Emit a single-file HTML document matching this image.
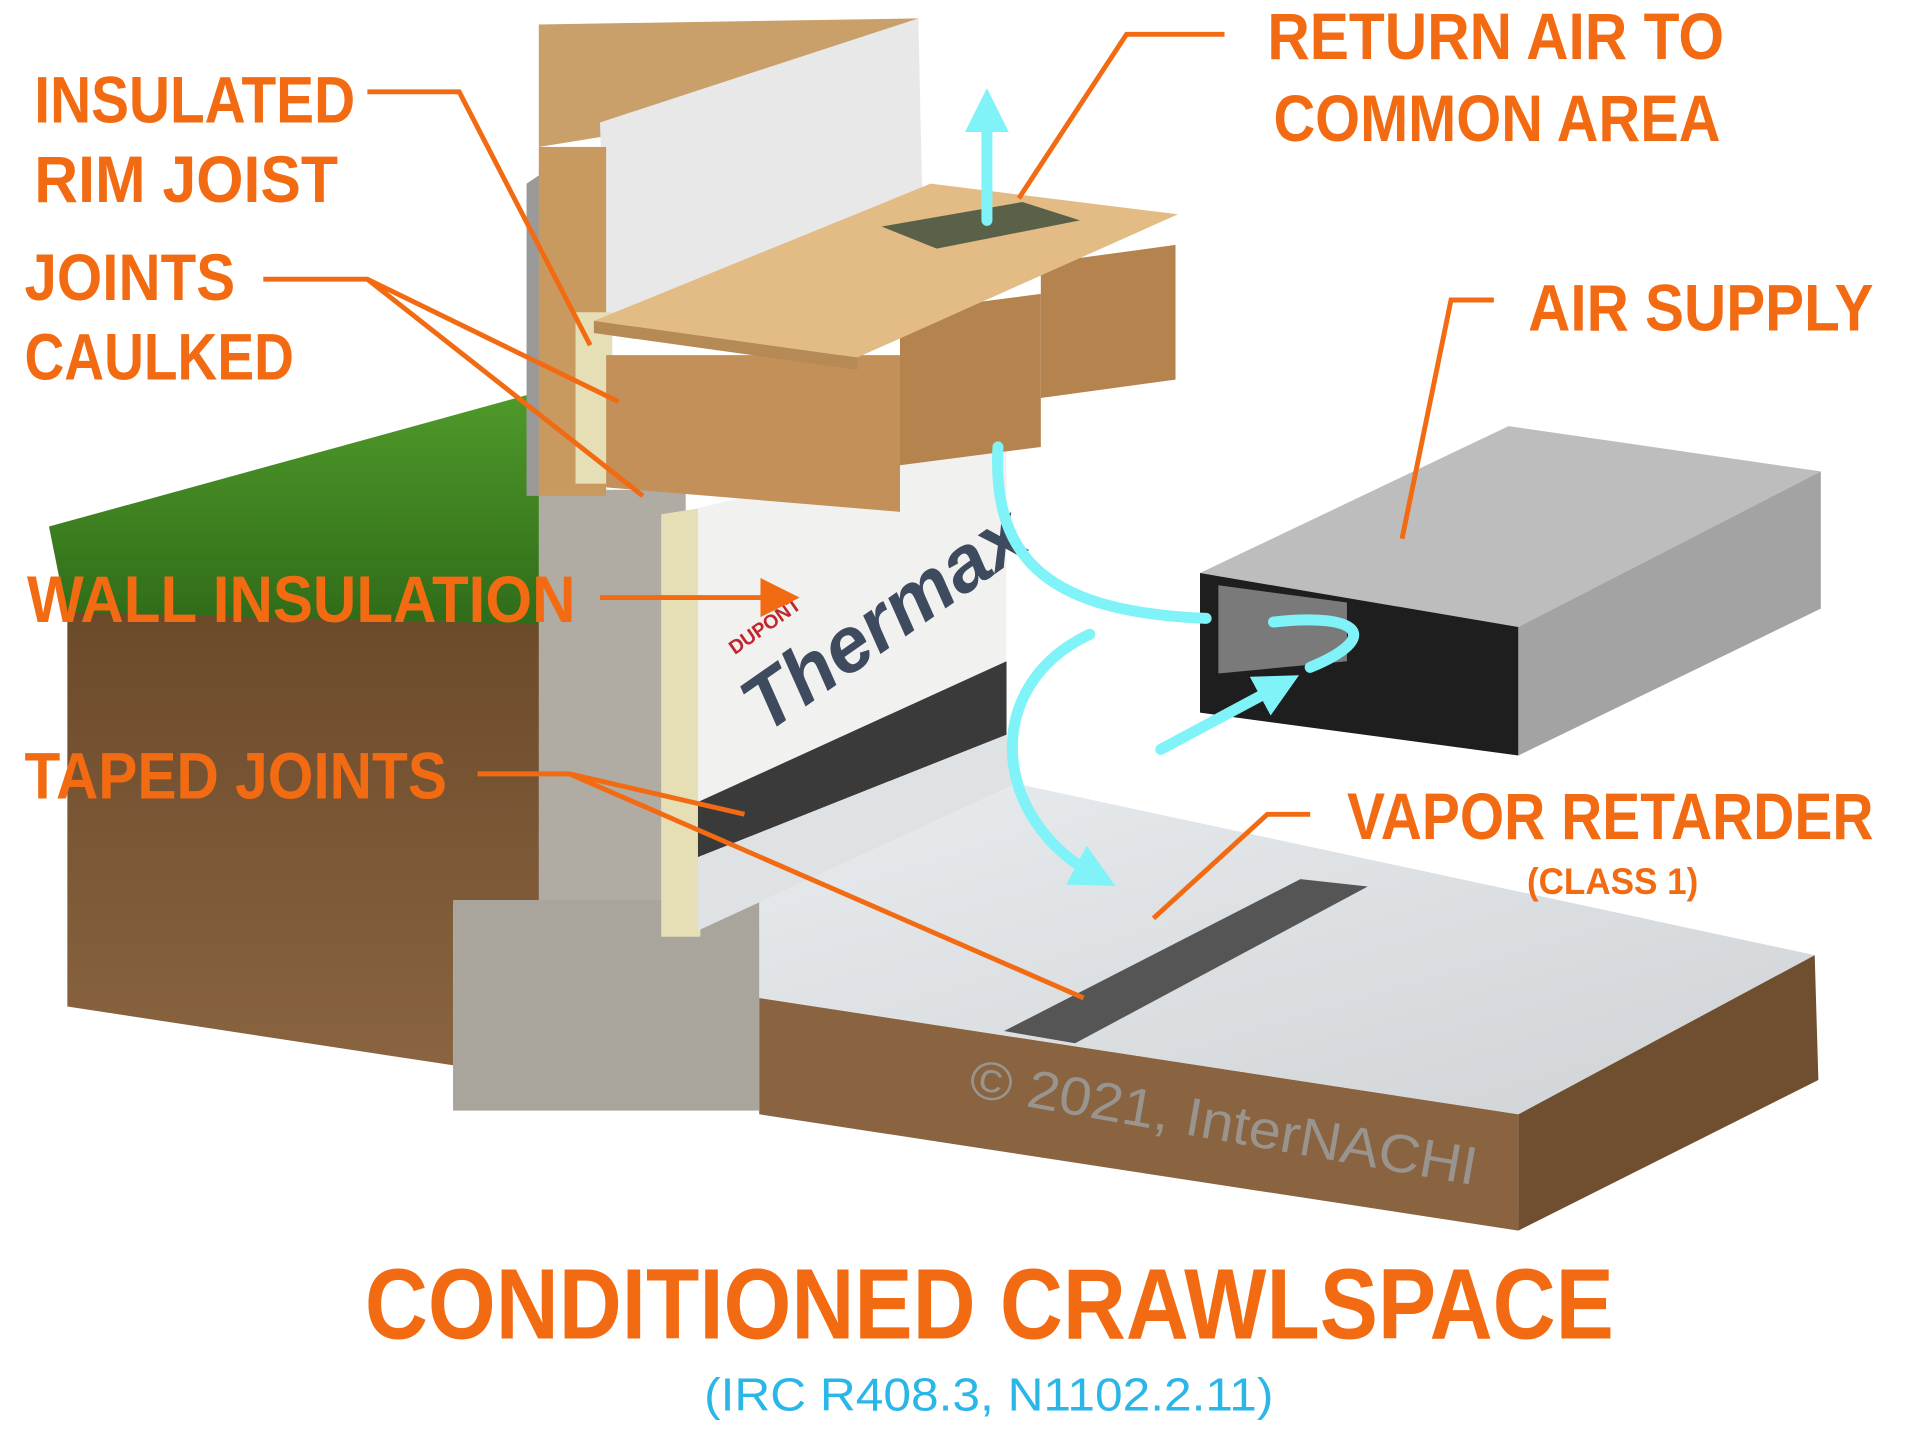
<!DOCTYPE html>
<html><head><meta charset="utf-8"><style>
html,body{margin:0;padding:0;background:#fff}
svg{display:block}
text{font-family:"Liberation Sans",sans-serif}
.o{fill:#f26b12;font-weight:bold}
.l{stroke:#f26b12;stroke-width:4;fill:none}
.c{stroke:#7ff3f8;stroke-width:9;fill:none;stroke-linecap:round}
</style></head><body>
<svg width="1920" height="1440" viewBox="0 0 1568 1176" xmlns="http://www.w3.org/2000/svg">
<defs>
<linearGradient id="grass" x1="0" y1="0" x2="0" y2="1"><stop offset="0" stop-color="#4f9a2a"/><stop offset="1" stop-color="#2f6a18"/></linearGradient>
<linearGradient id="soil" x1="0" y1="0" x2="0" y2="1"><stop offset="0" stop-color="#6b4a2a"/><stop offset="1" stop-color="#8a6440"/></linearGradient>
<linearGradient id="floor" x1="0" y1="0" x2="1" y2="1"><stop offset="0" stop-color="#e9ecef"/><stop offset="1" stop-color="#cfd3d6"/></linearGradient>
<marker id="oa" markerWidth="8" markerHeight="8" refX="6" refY="4" orient="auto" markerUnits="strokeWidth"><path d="M0,0 L8,4 L0,8z" fill="#f26b12"/></marker>
<marker id="ca" markerWidth="4" markerHeight="4" refX="2" refY="2" orient="auto" markerUnits="strokeWidth"><path d="M0,0 L4,2 L0,4z" fill="#7ff3f8"/></marker>
</defs>
<rect width="1568" height="1176" fill="#fff"/>
<!-- left soil -->
<polygon points="40,430 440,320 445,515 55,505" fill="url(#grass)"/>
<polygon points="55,500 445,510 445,740 370,740 370,870 55,822" fill="url(#soil)"/>
<!-- right soil slab -->
<polygon points="620,815 1240,910 1240,1005 620,910" fill="#8a6440"/>
<polygon points="1240,910 1482,780 1485,882 1240,1005" fill="#6f4f30"/>
<!-- vapor floor -->
<polygon points="570,760 830,640 1482,780 1240,910 620,815" fill="url(#floor)"/>
<polygon points="820,842 1062,718 1117,724 878,852" fill="#555"/>
<!-- concrete -->
<rect x="440" y="400" width="120" height="345" fill="#b0aca4"/>
<rect x="370" y="735" width="250" height="172" fill="#a9a59d"/>
<polygon points="540,420 572,415 572,765 540,765" fill="#e6dfb6"/>
<!-- thermax -->
<polygon points="570,415 822,355 822,548 570,655" fill="#f1f1f0"/>
<polygon points="570,655 822,540 822,600 570,700" fill="#3a3a3a"/>
<polygon points="570,700 822,600 830,640 570,760" fill="#dfe2e4"/>
<text x="0" y="0" transform="translate(625,600) rotate(-35)" font-size="64" font-weight="bold" fill="#3e4a5e" font-style="italic">Thermax</text>
<text x="0" y="0" transform="translate(600,535) rotate(-35)" font-size="16" font-weight="bold" fill="#c0262e">DUPONT</text>
<!-- wall framing -->
<polygon points="440,20 750,15 750,70 440,120" fill="#c9a06a"/>
<polygon points="490,100 750,15 755,245 495,262" fill="#e8e8e8"/>
<polygon points="430,150 445,140 445,405 430,405" fill="#9a9a9a"/>
<rect x="440" y="120" width="55" height="285" fill="#c99a60"/>
<rect x="470" y="255" width="30" height="140" fill="#e6dfb6"/>
<!-- joists -->
<polygon points="495,290 735,290 735,418 495,398" fill="#c29058"/>
<polygon points="735,255 850,240 850,365 735,380" fill="#b4834e"/>
<polygon points="850,215 960,200 960,310 850,325" fill="#b4834e"/>
<!-- deck -->
<polygon points="485,262 760,150 962,175 700,292" fill="#e2bb85"/>
<polygon points="485,262 700,292 700,302 485,272" fill="#b58a55"/>
<polygon points="720,185 835,165 882,180 765,203" fill="#5a6148"/>
<!-- duct -->
<polygon points="980,468 1232,348 1487,385 1240,512" fill="#bdbdbd"/>
<polygon points="980,468 1240,512 1240,617 980,582" fill="#1e1e1e"/>
<polygon points="1240,512 1487,385 1487,497 1240,617" fill="#a3a3a3"/>
<polygon points="995,478 1100,492 1100,540 995,550" fill="#7a7a7a"/>
<!-- cyan arrows -->
<path class="c" d="M806,180 L806,90" marker-end="url(#ca)"/>
<path class="c" d="M815,365 C810,460 860,500 985,505"/>
<path class="c" d="M1040,508 C1110,500 1130,520 1070,545"/>
<path class="c" d="M948,612 L1045,560" marker-end="url(#ca)"/>
<path class="c" d="M890,518 C800,560 810,670 895,715" marker-end="url(#ca)"/>
<!-- watermark -->
<text transform="translate(790,895) rotate(10)" font-size="44" fill="#9d9d9d" opacity="0.85" textLength="420" lengthAdjust="spacingAndGlyphs">© 2021, InterNACHI</text>
<!-- leaders -->
<polyline class="l" points="300,75 375,75 482,282"/>
<polyline class="l" points="215,228 300,228 505,328"/>
<polyline class="l" points="300,228 525,405"/>
<polyline class="l" points="490,488 645,488" marker-end="url(#oa)"/>
<polyline class="l" points="390,632 465,632 608,665"/>
<polyline class="l" points="465,632 885,815"/>
<polyline class="l" points="1000,28 920,28 832,162"/>
<polyline class="l" points="1220,245 1185,245 1145,440"/>
<polyline class="l" points="1070,665 1035,665 942,750"/>
<!-- labels -->
<g class="o" font-size="54">
<text x="28" y="100" textLength="262" lengthAdjust="spacingAndGlyphs">INSULATED</text>
<text x="28" y="165" textLength="248" lengthAdjust="spacingAndGlyphs">RIM JOIST</text>
<text x="20" y="245" textLength="172" lengthAdjust="spacingAndGlyphs">JOINTS</text>
<text x="20" y="310" textLength="220" lengthAdjust="spacingAndGlyphs">CAULKED</text>
<text x="22" y="508" textLength="448" lengthAdjust="spacingAndGlyphs">WALL INSULATION</text>
<text x="20" y="652" textLength="345" lengthAdjust="spacingAndGlyphs">TAPED JOINTS</text>
<text x="1035" y="48" textLength="373" lengthAdjust="spacingAndGlyphs">RETURN AIR TO</text>
<text x="1040" y="115" textLength="365" lengthAdjust="spacingAndGlyphs">COMMON AREA</text>
<text x="1248" y="270" textLength="282" lengthAdjust="spacingAndGlyphs">AIR SUPPLY</text>
<text x="1100" y="685" textLength="430" lengthAdjust="spacingAndGlyphs">VAPOR RETARDER</text>
<text x="1247" y="730" font-size="30" textLength="140" lengthAdjust="spacingAndGlyphs">(CLASS 1)</text>
<text x="298" y="1093" font-size="82" textLength="1020" lengthAdjust="spacingAndGlyphs">CONDITIONED CRAWLSPACE</text>
</g>
<text x="575" y="1152" font-size="38" fill="#2bb6e8" textLength="465" lengthAdjust="spacingAndGlyphs">(IRC R408.3, N1102.2.11)</text>
</svg>
</body></html>
